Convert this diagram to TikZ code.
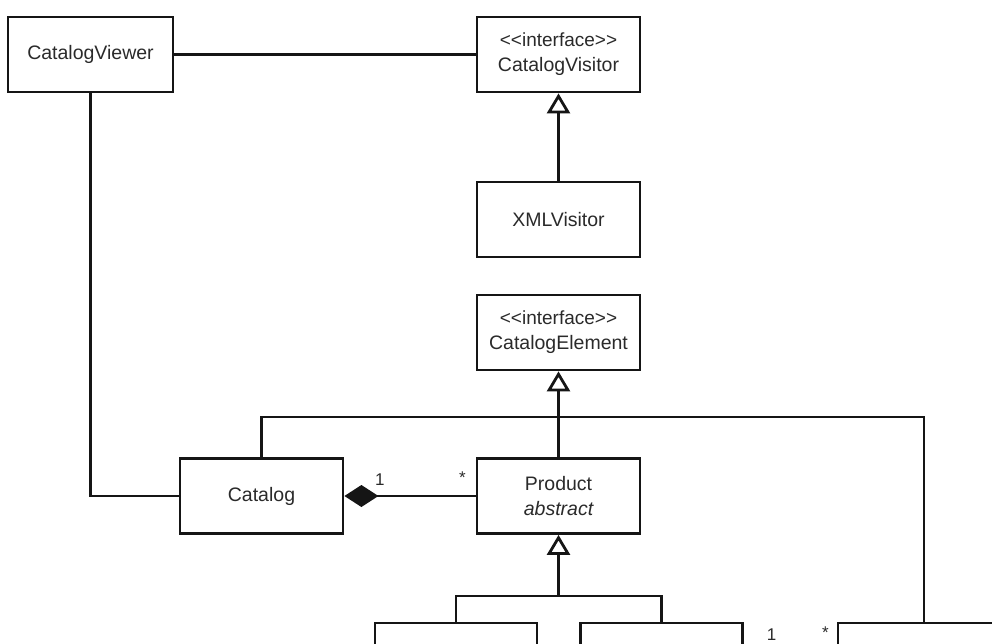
\documentclass[tikz,border=0pt]{standalone}
\usepackage{fontspec}
\setmainfont{Liberation Sans}
\usetikzlibrary{arrows.meta}
\definecolor{ink}{HTML}{151515}
\definecolor{txt}{HTML}{2A2A2A}
% angle brackets set one by one, so no guillemet ligature forms
\newcommand{\stereo}[1]{\textless\kern0pt\textless\kern0pt#1\kern0pt\textgreater\kern0pt\textgreater}
\begin{document}
\begin{tikzpicture}[x=1pt,y=-1pt,
  box/.style={draw=ink, line width=2.8pt, rectangle, minimum width=163pt,
    minimum height=75pt, inner sep=0pt, align=center, text=txt,
    font=\fontsize{19.5}{25}\selectfont},
  link/.style={draw=ink, line width=2.8pt},
  gen/.style={link, -{Triangle[open, length=20pt, width=23pt, fill=white]}},
  comp/.style={link, {Diamond[length=34pt, width=22pt]}-},
  mult/.style={text=txt, font=\fontsize{17}{20}\selectfont, inner sep=0pt}]
\useasboundingbox (0,0) rectangle (992,644);
\clip (0,0) rectangle (992,644);

% classes
\node[box, minimum width=165pt] (viewer) at (90.5,54.5) {CatalogViewer};
\node[box] (visitor) at (558.5,54.5) {{\fontsize{19}{25}\selectfont\stereo{interface}}\\CatalogVisitor};
\node[box] (xml) at (558.5,219.5) {XMLVisitor};
\node[box] (element) at (558.5,332.5) {{\fontsize{19}{25}\selectfont\stereo{interface}}\\CatalogElement};
\node[box] (catalog) at (261.5,496) {Catalog};
\node[box] (product) at (558.5,496) {Product\\\itshape abstract};
\node[box, minimum width=162pt] (leaf1) at (456,660.5) {};
\node[box, minimum width=162pt] (leaf2) at (661.5,660.5) {};
\node[box, minimum width=172pt] (leaf3) at (924,660.5) {};

% associations
\draw[link] (viewer) -- (visitor);
\draw[link] (viewer.south) |- (catalog.west);
\draw[comp] (catalog.east) -- (product.west)
  node[mult, pos=0.27, above=9pt] {1}
  node[mult, pos=0.9, above=11pt] {*};
\draw[link] (leaf2.east) -- (leaf3.west)
  node[mult, pos=0.3, above=19pt] {1}
  node[mult, pos=0.88, above=21pt] {*};

% generalizations
\coordinate (busTop) at (558.5,417);
\coordinate (busBot) at (558.5,596);
\draw[gen] (xml) -- (visitor);
\draw[gen] (product.north) -- (element.south);
\draw[link] (catalog.north) |- (busTop) -| (leaf3.north);
\draw[gen] (busBot) -- (product.south);
\draw[link] (leaf1.north) |- (busBot) -| (leaf2.north);
\end{tikzpicture}
\end{document}
